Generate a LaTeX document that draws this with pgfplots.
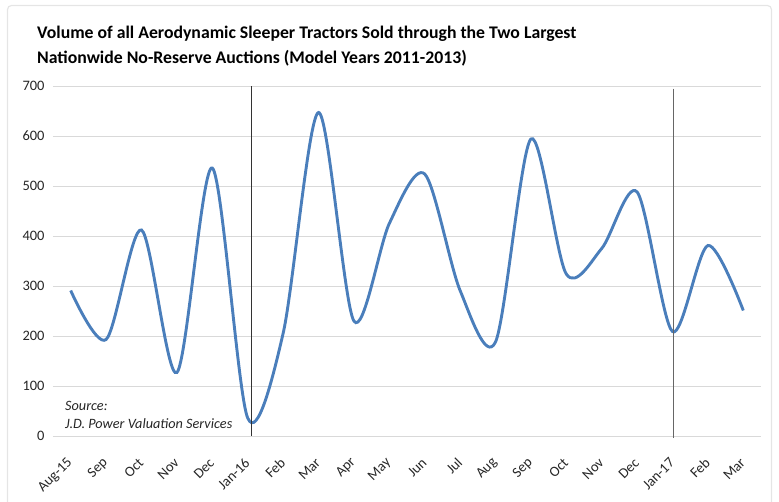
\documentclass[border=0pt]{standalone}
\usepackage{fontspec}
\setmainfont{Carlito}
\usepackage{pgfplots}
\pgfplotsset{compat=1.18}
\definecolor{lineblue}{HTML}{4A7EBB}
\definecolor{gridgray}{HTML}{D9D9D9}
\definecolor{txt}{HTML}{262626}
\begin{document}
\begin{tikzpicture}
\path[use as bounding box] (-53bp,-66bp) rectangle (726bp,436bp);
\draw[gray!20, line width=1.2bp, rounded corners=4bp] (-45.5bp,-76bp) rectangle (718.5bp,430.5bp);
\node[anchor=base west, inner sep=0, font=\fontsize{17.8}{20}\selectfont\bfseries] at (-16bp,397bp) {Volume of all Aerodynamic Sleeper Tractors Sold through the Two Largest};
\node[anchor=base west, inner sep=0, font=\fontsize{17.8}{20}\selectfont\bfseries] at (-16bp,372bp) {Nationwide No-Reserve Auctions (Model Years 2011-2013)};
\begin{axis}[
  at={(0,0)}, anchor=south west, scale only axis,
  width=708bp, height=350bp,
  xmin=-0.5, xmax=19.5, ymin=0, ymax=700,
  ytick={0,100,...,700},
  xtick={0,...,19},
  xticklabels={Aug-15,Sep,Oct,Nov,Dec,Jan-16,Feb,Mar,Apr,May,Jun,Jul,Aug,Sep,Oct,Nov,Dec,Jan-17,Feb,Mar},
  axis line style={draw=none},
  major tick style={draw=none},
  ymajorgrids, grid style={gridgray, line width=1bp},
  /pgf/number format/assume math mode=true,
  yticklabel style={font=\fontsize{14.5}{14.5}\selectfont, text=txt, xshift=-5bp},
  xticklabel style={font=\fontsize{14.5}{14.5}\selectfont, text=txt, anchor=east, xshift=2bp, yshift=-22bp, rotate=45},
  clip=false,
]
\addplot[lineblue, line width=2.9bp, smooth, tension=0.5] coordinates {
(0,291) (1,193) (2,412) (3,127) (4,536) (5,36) (6,205) (7,647) (8,230) (9,425)
(10,524) (11,291) (12,188) (13,594) (14,324) (15,375) (16,488) (17,209) (18,381) (19,251)
};
\draw[black!80, line width=0.9bp] (axis cs:5.1,700) -- (axis cs:5.1,0);
\draw[black!60, line width=1.1bp] (axis cs:17.03,695) -- (axis cs:17.03,-4);
\end{axis}
\node[anchor=base west, inner sep=0, font=\fontsize{14.3}{14}\selectfont\itshape, text=txt] at (12bp,26bp) {Source:};
\node[anchor=base west, inner sep=0, font=\fontsize{14.3}{14}\selectfont\itshape, text=txt] at (12bp,8bp) {J.D. Power Valuation Services};
\end{tikzpicture}
\end{document}
